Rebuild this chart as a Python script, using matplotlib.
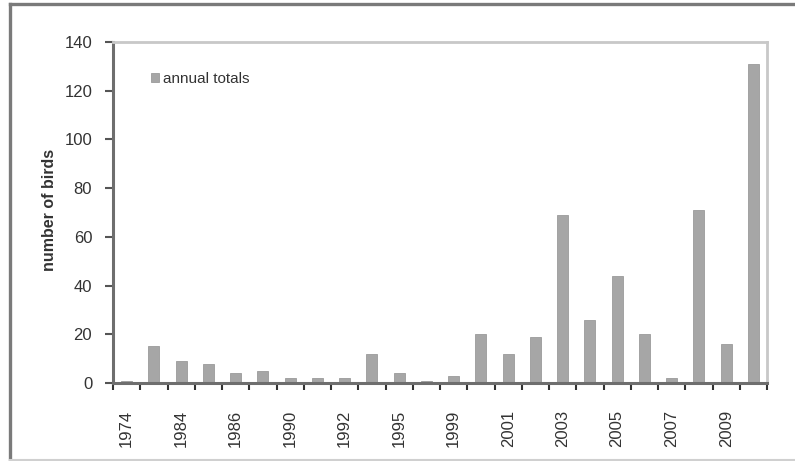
import numpy as np
import matplotlib
matplotlib.use("Agg")
import matplotlib.pyplot as plt
from matplotlib.lines import Line2D

plt.rcParams['font.family'] = ['Liberation Sans', 'DejaVu Sans']

# bars in order, only every other category carries a label
year_labels = ['1974', '', '1984', '', '1986', '', '1990', '', '1992', '', '1995', '',
               '1999', '', '2001', '', '2003', '', '2005', '', '2007', '', '2009', '']
annual_totals = [1, 15, 9, 8, 4, 5, 2, 2, 2, 12, 4, 1,
                 3, 20, 12, 19, 69, 26, 44, 20, 2, 71, 16, 131]
y_ticks = [0, 20, 40, 60, 80, 100, 120, 140]

fig = plt.figure(figsize=(7.95, 4.61), dpi=100)
ax = fig.add_axes([113 / 795, 1 - 383 / 461, 654 / 795, 341 / 461])

x = np.arange(len(annual_totals))
ax.bar(x, annual_totals, width=0.4, color='#a6a6a6', edgecolor='#9a9a9a',
       linewidth=0.6, label='annual totals', zorder=2)

ax.set_xlim(-0.5, len(annual_totals) - 0.5)
ax.set_ylim(0, 140)
ax.set_yticks(y_ticks)

# Excel style: tick marks between categories, labels at centres
ax.set_xticks(np.arange(-0.5, len(annual_totals)), minor=False)
ax.set_xticklabels([])
ax.set_xticks(x, minor=True)
ax.set_xticklabels(year_labels, minor=True, rotation=90, fontsize=12,
                   color='#333333', va='top')
ax.tick_params(axis='x', which='major', direction='out', length=5, width=1.5,
               color='#333333')
ax.tick_params(axis='x', which='minor', length=0, pad=19)
ax.tick_params(axis='y', direction='out', length=6, width=1.5, color='#555555',
               labelsize=12, labelcolor='#333333', pad=9)

for side in ['left', 'bottom']:
    ax.spines[side].set_color('#6e6e6e')
    ax.spines[side].set_linewidth(2.2)
for side in ['top', 'right']:
    ax.spines[side].set_color('#c8c8c8')
    ax.spines[side].set_linewidth(2)

ax.set_ylabel('number of birds', fontsize=11.5, fontweight='bold', color='#333333')
ax.yaxis.set_label_coords(-0.086, 0.507)

ax.legend(loc='upper left', bbox_to_anchor=(0.046, 0.934), frameon=False,
          fontsize=11, handlelength=0.55, handleheight=0.55, handletextpad=0.25,
          borderpad=0, labelcolor='#333333')

# frame around the whole picture
fig.add_artist(Line2D([9.5 / 795, 9.5 / 795], [0, 1 - 4 / 461],
                      transform=fig.transFigure, color='#7a7a7a', lw=2.4))
fig.add_artist(Line2D([9.5 / 795, 1], [1 - 4.5 / 461, 1 - 4.5 / 461],
                      transform=fig.transFigure, color='#7a7a7a', lw=2.4))
fig.add_artist(Line2D([9.5 / 795, 1], [1.5 / 461, 1.5 / 461],
                      transform=fig.transFigure, color='#d0d0d0', lw=1.5))

fig.savefig('out.png', dpi=100)
